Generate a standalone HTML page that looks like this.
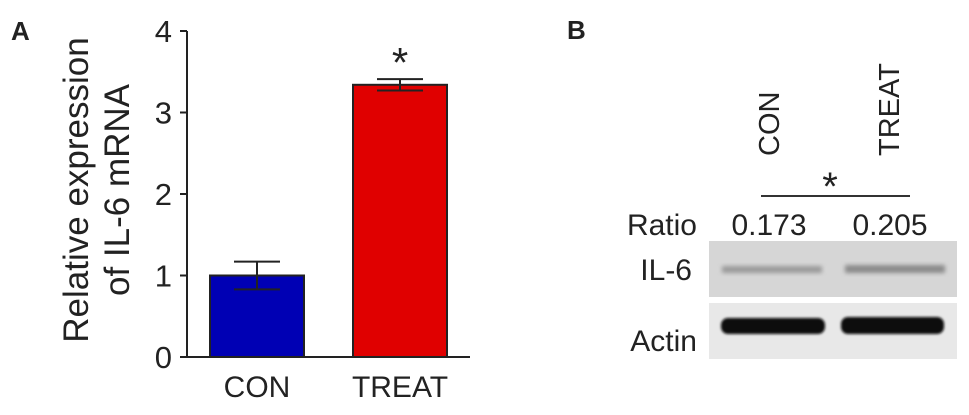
<!DOCTYPE html>
<html><head><meta charset="utf-8"><style>
body{margin:0;background:#fff;width:969px;height:410px;overflow:hidden}
text{font-family:"Liberation Sans",sans-serif;fill:#222}
</style></head><body>
<svg width="969" height="410">
<defs>
<filter id="blur" x="-20%" y="-50%" width="140%" height="200%"><feGaussianBlur stdDeviation="2"/></filter>
<filter id="blur2" x="-20%" y="-50%" width="140%" height="200%"><feGaussianBlur stdDeviation="1.2"/></filter>
</defs>
<text x="11" y="40" font-size="26" font-weight="bold">A</text>
<g id="chartA"></g>
<g>
<text transform="translate(88,190) rotate(-90)" text-anchor="middle" font-size="35">Relative expression</text>
<text transform="translate(129,190) rotate(-90)" text-anchor="middle" font-size="35">of IL-6 mRNA</text>
</g>
<text x="567" y="39" font-size="26" font-weight="bold">B</text>
<text transform="translate(779,156) rotate(-90)" font-size="29">CON</text>
<text transform="translate(899,156) rotate(-90)" font-size="29">TREAT</text>
<text x="830" y="200" text-anchor="middle" font-size="40">*</text>
<line x1="761" y1="196" x2="910" y2="196" stroke="#333" stroke-width="2"/>
<text x="697" y="235" text-anchor="end" font-size="30">Ratio</text>
<text x="769" y="235" text-anchor="middle" font-size="30">0.173</text>
<text x="890" y="235" text-anchor="middle" font-size="30">0.205</text>
<rect x="709" y="241" width="248" height="56" fill="#d6d6d6"/>
<rect x="722" y="266" width="100" height="7" fill="#9a9a9a" filter="url(#blur)"/>
<rect x="845" y="265" width="100" height="8" fill="#8a8a8a" filter="url(#blur)"/>
<text x="692" y="280" text-anchor="end" font-size="30">IL-6</text>
<rect x="709" y="303" width="248" height="56" fill="#e8e8e8"/>
<rect x="721" y="318" width="104" height="16" rx="7" fill="#111" filter="url(#blur2)"/>
<rect x="841" y="317" width="103" height="17" rx="7" fill="#111" filter="url(#blur2)"/>
<text x="697" y="351" text-anchor="end" font-size="30">Actin</text>
</svg>
<script>
const categories=["CON","TREAT"];
const values=[1.0,3.34];
const errors=[0.17,0.07];
const yTicks=[0,1,2,3,4];
const colors=["#0000b4","#e00000"];
const NS="http://www.w3.org/2000/svg";
const g=document.getElementById("chartA");
const y0=357,pxPer=81.5,axisX=187;
const y=v=>y0-v*pxPer;
const xc=i=>257+i*143;
function mk(t,a){const e=document.createElementNS(NS,t);for(const k in a)e.setAttribute(k,a[k]);g.appendChild(e);return e;}
categories.forEach((c,i)=>{
 const r=mk("rect",{x:xc(i)-47,y:y(values[i]),width:94,height:y0-y(values[i]),fill:colors[i],stroke:"#222","stroke-width":2});
 
 
 const e=mk("path",{d:`M${xc(i)} ${y(values[i]+errors[i])}V${y(values[i]-errors[i])}M${xc(i)-23} ${y(values[i]+errors[i])}h46M${xc(i)-23} ${y(values[i]-errors[i])}h46`,stroke:"#222","stroke-width":2,fill:"none"});
 
 
 const t=mk("text",{x:xc(i),y:397,"text-anchor":"middle","font-size":30});
 t.textContent=c;
 
 
});
const ax=mk("path",{d:`M${axisX} ${y(4)}V${y0}M180 ${y0}H470`,stroke:"#222","stroke-width":2,fill:"none"});


yTicks.forEach(v=>{
 const tk=mk("line",{x1:180,x2:axisX,y1:y(v),y2:y(v),stroke:"#222","stroke-width":2});
 
 
 const t=mk("text",{x:172,y:y(v)+11,"text-anchor":"end","font-size":31});
 t.textContent=v;
 
 
});
const s=mk("text",{x:xc(1),y:y(values[1]+errors[1])-2,"text-anchor":"middle","font-size":42});
s.textContent="*";


</script>
</body></html>
